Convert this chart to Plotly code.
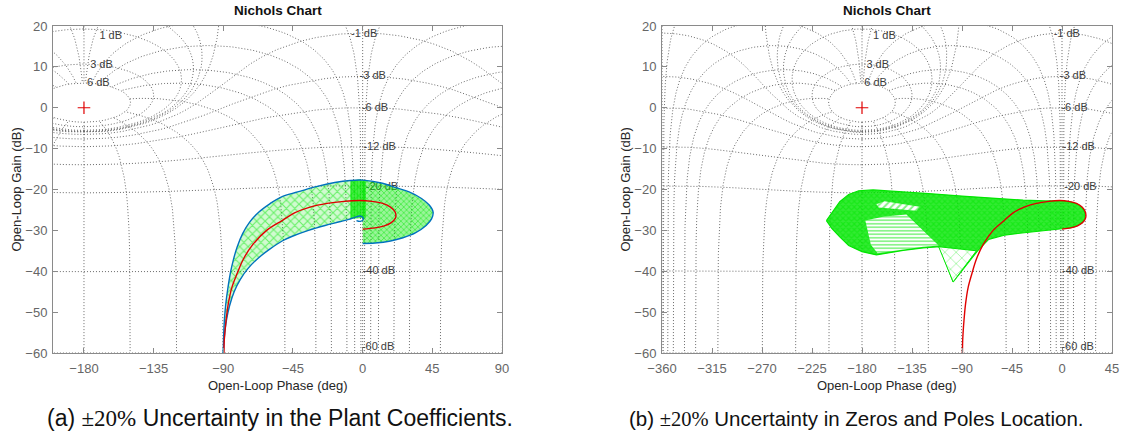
import numpy as np
import plotly.graph_objects as go

# ---------------- values ----------------
# nominal open-loop response (red), same plant in both panels
NOM_PHASE = [-89.6, -89.4, -89.0, -88.2, -86.8, -84.5, -81.0, -77.0, -71.0, -62.0, -52.0, -44.0,
             -34.0, -23.0, -12.0, -2.0, 6.0, 13.0, 18.0, 21.0, 21.2, 18.5, 14.0, 8.0, 0.0]
NOM_GAIN = [-60.0, -57.0, -55.0, -52.0, -48.0, -44.0, -40.5, -37.0, -33.5, -30.0, -27.6, -25.7,
            -24.3, -23.4, -22.9, -22.7, -22.9, -23.4, -24.3, -25.5, -27.0, -28.1, -28.9, -29.4, -29.7]

# panel (a): template envelope (blue)
A_OUT_PHASE = [-90.0, -89.8, -89.3, -88.4, -87.0, -85.2, -83.5, -81.0, -77.5, -73.0, -67.0, -60.0,
               -53.0, -42.0, -30.0, -18.0, -8.0, 0.0, 12.0, 22.0, 30.0, 38.0, 43.0, 45.5, 44.5,
               41.0, 34.0, 26.0, 18.0, 8.0, 0.0]
A_OUT_GAIN = [-60.0, -56.0, -52.0, -48.0, -44.0, -40.0, -37.2, -34.0, -30.8, -28.0, -25.5, -23.5,
              -21.9, -20.6, -19.3, -18.3, -17.8, -17.7, -18.4, -19.6, -20.6, -22.2, -23.8, -25.5,
              -27.2, -28.8, -30.6, -31.8, -32.6, -33.1, -33.2]
A_IN_PHASE = [-90.0, -89.3, -88.0, -86.0, -83.0, -79.0, -74.0, -67.5, -60.0, -52.0, -45.8, -35.0,
              -24.3, -15.0, -9.0, -5.0, -2.0, 0.0, 0.3, -1.5, -4.0]
A_IN_GAIN = [-60.0, -56.0, -52.0, -48.5, -45.0, -42.0, -39.3, -36.8, -34.6, -32.6, -31.5, -30.0,
             -28.8, -27.9, -27.3, -26.8, -26.5, -26.8, -27.4, -27.8, -27.6]
# panel (a): dense strip of templates near 0 deg
A_STRIP_PHASE = [-8.0, 2.0, 2.0, -8.0]
A_STRIP_GAIN = [-17.8, -17.75, -26.9, -27.2]

# panel (b): template region (green)
B_UP_PHASE = [-212, -207, -200, -192, -183, -170, -150, -120, -90, -60, -35, -15, 0, 8, 14, 18.5, 20.7]
B_UP_GAIN = [-27.6, -25.6, -23.0, -21.2, -20.3, -20.1, -20.4, -21.0, -21.6, -22.2, -22.6, -22.8,
             -22.8, -23.1, -23.6, -24.5, -25.8]
B_LO_PHASE = [20.5, 18, 13, 7, 0, -20, -38, -52, -66, -76, -98, -110, -125, -143, -157, -167, -180,
              -192, -200, -207, -212]
B_LO_GAIN = [-27.2, -28.2, -28.9, -29.4, -29.6, -30.1, -30.7, -31.2, -32.2, -35.0, -42.6, -34.0,
             -34.3, -34.9, -35.6, -36.0, -35.2, -33.7, -31.6, -29.6, -27.6]
B_SPARSE_PHASE = [-177, -160, -140, -111, -125, -143, -157, -166, -172]
B_SPARSE_GAIN = [-27.6, -26.6, -26.1, -33.7, -34.0, -34.6, -35.2, -35.6, -33.5]
B_TRI_PHASE = [-111, -98, -77, -111]
B_TRI_GAIN = [-34.0, -42.6, -35.0, -34.0]
B_SLIT_PHASE = [-167, -160, -128, -131, -165]
B_SLIT_GAIN = [-23.6, -22.9, -24.2, -25.2, -24.4]

CRIT_PHASE = [-180]
CRIT_GAIN = [0]

# Nichols grid definition (closed-loop gains in dB, closed-loop phases in deg)
GRID_M_DB = [6, 3, 1, 0.5, 0.25, 0, -1, -3, -6, -12, -20, -40, -60, -80]
GRID_N_DEG = [0, 1, -1, 5, -5, 10, -10, 20, -20, 30, -30, 50, -50, 90, -90, 120, -120, 150, -150, 180]
GRID_LBL_TEXT = ['6 dB', '3 dB', '1 dB', '-1 dB', '-3 dB', '-6 dB', '-12 dB', '-20 dB', '-40 dB', '-60 dB']
GRID_LBL_PHASE = [-178, -176, -170, -7.5, -2.0, -0.5, 0.5, 2.0, 0.0, -0.5]
GRID_LBL_GAIN = [6.0, 10.5, 17.4, 18.0, 7.6, -0.1, -9.7, -19.5, -40.1, -58.6]

XTICKS_A = [-180, -135, -90, -45, 0, 45, 90]
XTICKS_B = [-360, -315, -270, -225, -180, -135, -90, -45, 0, 45]
YTICKS = [-60, -50, -40, -30, -20, -10, 0, 10, 20]
XRANGE_A = [-200, 90]
XRANGE_B = [-360, 45]
YRANGE = [-60, 20]

TITLE = 'Nichols Chart'
XLABEL = 'Open-Loop Phase (deg)'
YLABEL = 'Open-Loop Gain (dB)'
CAP_A = '(a) <span style="font-family:Liberation Serif">±20%</span> Uncertainty in the Plant Coefficients.'
CAP_B = '(b) <span style="font-family:Liberation Serif">±20%</span> Uncertainty in Zeros and Poles Location.'

# ---------------- styling ----------------
GREEN = '#00e600'
BLUE = '#0072BD'
RED = '#e00000'
GRIDC = '#6a6a6a'
AXC = '#8a8a8a'
TICKC = '#666666'
FONT = 'Liberation Sans, Arial, sans-serif'

FIG_W = 1125
FIG_H = 444


def fx(px):
    return px / FIG_W


def fy(py):
    return 1 - py / FIG_H


def m_curves(mdb):
    m = 10 ** (mdb / 20.0)
    if abs(mdb) < 1e-9:
        th = np.linspace(1e-3, 2 * np.pi - 1e-3, 3000)
    else:
        th = np.linspace(-np.pi, np.pi, 3001)
    T = m * np.exp(1j * th)
    L = T / (1 - T)
    ph = np.degrees(np.unwrap(np.angle(L)))
    g = 20 * np.log10(np.abs(L))
    if m >= 1 - 1e-9:
        ph = ph - 360 * np.round((ph.mean() + 180) / 360)
        shifts = [0]
    else:
        shifts = [-360, 0, 360]
    return [(ph + s, g) for s in shifts]


def n_curves(phi):
    mdb = np.linspace(-120, 6, 1500)
    m = 10 ** (mdb / 20.0)
    p = np.radians(phi)
    ph = phi - np.degrees(np.arctan2(-m * np.sin(p), 1 - m * np.cos(p)))
    T = m * np.exp(1j * p)
    with np.errstate(divide='ignore', invalid='ignore'):
        g = 20 * np.log10(np.abs(T / (1 - T)))
    jump = np.abs(np.diff(ph)) > 90
    idx = np.where(jump)[0]
    ph = np.insert(ph, idx + 1, np.nan)
    g = np.insert(g, idx + 1, np.nan)
    return [(ph + s, g) for s in (-360, 0, 360)]


def grid_xy(xr):
    segs = []
    for mdb in GRID_M_DB:
        segs += m_curves(mdb)
    for phi in GRID_N_DEG:
        segs += n_curves(phi)
    xs, ys = [], []
    for ph, g in segs:
        bad = (~np.isfinite(g)) | (~np.isfinite(ph)) | (g > 45) | (g < -75) | \
              (ph < xr[0] - 15) | (ph > xr[1] + 15)
        xs.append(np.where(bad, np.nan, ph))
        ys.append(np.where(bad, np.nan, g))
        xs.append(np.array([np.nan]))
        ys.append(np.array([np.nan]))
    x = np.concatenate(xs)
    y = np.concatenate(ys)
    nan = np.isnan(x)
    keep = ~(nan & np.concatenate([[True], nan[:-1]]))
    x = x[keep]
    y = y[keep]
    xl = [None if np.isnan(v) else round(float(v), 2) for v in x]
    yl = [None if np.isnan(v) else round(float(v), 2) for v in y]
    return xl, yl


fig = go.Figure()

for ax, xr in (('', XRANGE_A), ('2', XRANGE_B)):
    gx, gy = grid_xy(xr)
    fig.add_trace(go.Scatter(x=gx, y=gy, mode='lines', xaxis='x' + ax, yaxis='y' + ax,
                             line=dict(color=GRIDC, width=1, dash='1px,2px'), hoverinfo='skip'))
    fig.add_trace(go.Scatter(x=GRID_LBL_PHASE, y=GRID_LBL_GAIN, text=GRID_LBL_TEXT, mode='text',
                             textposition='middle right', xaxis='x' + ax, yaxis='y' + ax,
                             textfont=dict(family=FONT, size=11, color='#3c3c3c'), hoverinfo='skip'))

# ---------- panel (a) ----------
out_ph = np.array(A_OUT_PHASE)
out_g = np.array(A_OUT_GAIN)
in_ph = np.array(A_IN_PHASE)
in_g = np.array(A_IN_GAIN)
i0 = int(np.argmax(out_ph >= 0))
j0 = int(np.argmax(in_ph >= 0))
arm_x = list(out_ph[:i0 + 1]) + list(in_ph[:j0 + 1][::-1])
arm_y = list(out_g[:i0 + 1]) + list(in_g[:j0 + 1][::-1])
fig.add_trace(go.Scatter(x=arm_x, y=arm_y, mode='lines', fill='toself', xaxis='x', yaxis='y',
                         line=dict(color='rgba(0,0,0,0)', width=0, shape='spline'),
                         fillcolor='rgba(0,0,0,0)',
                         fillpattern=dict(shape='x', fgcolor=GREEN, bgcolor='rgba(0,230,0,0.18)',
                                          size=6, solidity=0.33), hoverinfo='skip'))
d_x = list(out_ph[i0:]) + [out_ph[i0]]
d_y = list(out_g[i0:]) + [out_g[i0]]
fig.add_trace(go.Scatter(x=d_x, y=d_y, mode='lines', fill='toself', xaxis='x', yaxis='y',
                         line=dict(color='rgba(0,0,0,0)', width=0),
                         fillcolor='rgba(0,0,0,0)',
                         fillpattern=dict(shape='x', fgcolor=GREEN, bgcolor='rgba(0,230,0,0.40)',
                                          size=4, solidity=0.4), hoverinfo='skip'))
fig.add_trace(go.Scatter(x=A_STRIP_PHASE + A_STRIP_PHASE[:1], y=A_STRIP_GAIN + A_STRIP_GAIN[:1],
                         mode='lines', fill='toself', xaxis='x', yaxis='y',
                         line=dict(color='rgba(0,0,0,0)', width=0), fillcolor='rgba(0,0,0,0)',
                         fillpattern=dict(shape='|', fgcolor=GREEN, bgcolor='rgba(0,230,0,0.6)',
                                          size=3, solidity=0.6), hoverinfo='skip'))
fig.add_trace(go.Scatter(x=A_OUT_PHASE, y=A_OUT_GAIN, mode='lines', xaxis='x', yaxis='y',
                         line=dict(color=BLUE, width=1.4, shape='spline'), hoverinfo='skip'))
fig.add_trace(go.Scatter(x=A_IN_PHASE, y=A_IN_GAIN, mode='lines', xaxis='x', yaxis='y',
                         line=dict(color=BLUE, width=1.4, shape='spline'), hoverinfo='skip'))

# ---------- panel (b) ----------
ol_x = B_UP_PHASE + B_LO_PHASE
ol_y = B_UP_GAIN + B_LO_GAIN
fig.add_trace(go.Scatter(x=ol_x, y=ol_y, mode='lines', fill='toself', xaxis='x2', yaxis='y2',
                         line=dict(color=GREEN, width=1.2),
                         fillcolor='rgba(0,0,0,0)',
                         fillpattern=dict(shape='x', fgcolor=GREEN, bgcolor='rgba(0,230,0,0.8)',
                                          size=4, solidity=0.5), hoverinfo='skip'))
fig.add_trace(go.Scatter(x=B_SPARSE_PHASE + B_SPARSE_PHASE[:1], y=B_SPARSE_GAIN + B_SPARSE_GAIN[:1],
                         mode='lines', fill='toself', xaxis='x2', yaxis='y2',
                         line=dict(color='rgba(0,0,0,0)', width=0), fillcolor='rgba(0,0,0,0)',
                         fillpattern=dict(shape='-', fgcolor=GREEN, bgcolor='white',
                                          size=3.5, solidity=0.45), hoverinfo='skip'))
fig.add_trace(go.Scatter(x=B_TRI_PHASE, y=B_TRI_GAIN, mode='lines', fill='toself', xaxis='x2', yaxis='y2',
                         line=dict(color=GREEN, width=1), fillcolor='rgba(0,0,0,0)',
                         fillpattern=dict(shape='x', fgcolor=GREEN, bgcolor='white',
                                          size=8, solidity=0.15), hoverinfo='skip'))
fig.add_trace(go.Scatter(x=B_SLIT_PHASE + B_SLIT_PHASE[:1], y=B_SLIT_GAIN + B_SLIT_GAIN[:1],
                         mode='lines', fill='toself', xaxis='x2', yaxis='y2',
                         line=dict(color='rgba(0,0,0,0)', width=0), fillcolor='rgba(0,0,0,0)',
                         fillpattern=dict(shape='/', fgcolor=GREEN, bgcolor='white',
                                          size=5, solidity=0.4), hoverinfo='skip'))

# nominal curves and critical points
for ax in ('', '2'):
    fig.add_trace(go.Scatter(x=NOM_PHASE, y=NOM_GAIN, mode='lines', xaxis='x' + ax, yaxis='y' + ax,
                             line=dict(color=RED, width=1.4, shape='spline'), hoverinfo='skip'))
    fig.add_trace(go.Scatter(x=CRIT_PHASE, y=CRIT_GAIN, mode='markers', xaxis='x' + ax, yaxis='y' + ax,
                             marker=dict(symbol='cross-thin', size=9, line=dict(color=RED, width=1.2)),
                             hoverinfo='skip'))

axis_common = dict(showgrid=False, zeroline=False, showline=True, linecolor=AXC, linewidth=1,
                   mirror='ticks', ticks='inside', ticklen=5, tickcolor=AXC, automargin=False,
                   tickfont=dict(family=FONT, size=13, color=TICKC))
YDOM = [fy(353), fy(26)]
fig.update_layout(
    width=FIG_W, height=FIG_H, margin=dict(l=0, r=0, t=0, b=0),
    paper_bgcolor='white', plot_bgcolor='white', showlegend=False, hovermode=False,
    xaxis=dict(domain=[fx(53), fx(502)], range=XRANGE_A, tickvals=XTICKS_A,
               ticklabelstandoff=3, **axis_common),
    yaxis=dict(domain=YDOM, range=YRANGE, tickvals=YTICKS, anchor='x', ticklabelstandoff=2, **axis_common),
    xaxis2=dict(domain=[fx(662), fx(1112)], range=XRANGE_B, tickvals=XTICKS_B, anchor='y2',
                ticklabelstandoff=3, **axis_common),
    yaxis2=dict(domain=YDOM, range=YRANGE, tickvals=YTICKS, anchor='x2', ticklabelstandoff=2, **axis_common),
)

ann = []
for cx, ylx in ((277.5, 16), (887, 625)):
    ann.append(dict(x=fx(cx), y=fy(11), xref='paper', yref='paper', text='<b>' + TITLE + '</b>',
                    xanchor='center', yanchor='middle',
                    showarrow=False, font=dict(family=FONT, size=13.5, color='#111111')))
    ann.append(dict(x=fx(cx), y=fy(385), xref='paper', yref='paper', text=XLABEL,
                    xanchor='center', yanchor='middle',
                    showarrow=False, font=dict(family=FONT, size=13, color='#262626')))
    ann.append(dict(x=fx(ylx), y=fy(189.5), xref='paper', yref='paper', text=YLABEL, textangle=-90,
                    xanchor='center', yanchor='middle',
                    showarrow=False, font=dict(family=FONT, size=13, color='#262626')))
ann.append(dict(x=fx(280), y=fy(418), xref='paper', yref='paper', text=CAP_A, showarrow=False,
                xanchor='center', yanchor='middle', font=dict(family=FONT, size=23, color='#111111')))
ann.append(dict(x=fx(856), y=fy(418), xref='paper', yref='paper', text=CAP_B, showarrow=False,
                xanchor='center', yanchor='middle', font=dict(family=FONT, size=20.5, color='#111111')))
fig.update_layout(annotations=ann)

fig.write_html('out.html', config={'displayModeBar': False},
               post_script="document.body.style.margin='0px';document.body.style.overflow='hidden';")
